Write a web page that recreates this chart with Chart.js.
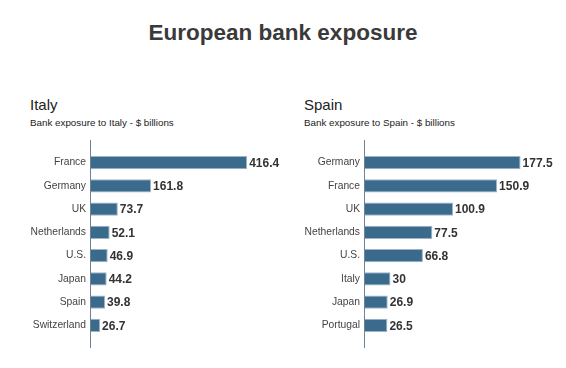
<!DOCTYPE html>
<html>
<head>
<meta charset="utf-8">
<script src="https://cdn.jsdelivr.net/npm/chart.js@4"></script>
<style>
  body { margin: 0; background: #fff; font-family: "Liberation Sans", Arial, sans-serif; }
  #wrap { position: relative; width: 566px; height: 368px; overflow: hidden; }
  .title { position: absolute; left: 0; width: 566px; top: 20px; text-align: center;
           font-size: 22.5px; font-weight: bold; color: #3a3a3a; }
  .head { position: absolute; font-size: 15px; color: #222; }
  .sub { position: absolute; font-size: 9.8px; color: #222; }
  canvas { position: absolute; }
</style>
</head>
<body>
<div id="wrap">
  <div class="title">European bank exposure</div>
  <div class="head" style="left:30px; top:96px;">Italy</div>
  <div class="sub" style="left:30px; top:117px;">Bank exposure to Italy - $ billions</div>
  <div class="head" style="left:304px; top:96px;">Spain</div>
  <div class="sub" style="left:304px; top:117px;">Bank exposure to Spain - $ billions</div>
  <div style="position:absolute; left:0; top:140px; width:290px; height:208px;"><canvas id="italyChart"></canvas></div>
  <div style="position:absolute; left:290px; top:140px; width:276px; height:208px;"><canvas id="spainChart"></canvas></div>
</div>
<script>
// Bank exposure, $ billions
const italyCountries = ['France', 'Germany', 'UK', 'Netherlands', 'U.S.', 'Japan', 'Spain', 'Switzerland'];
const italyValues = [416.4, 161.8, 73.7, 52.1, 46.9, 44.2, 39.8, 26.7];

const spainCountries = ['Germany', 'France', 'UK', 'Netherlands', 'U.S.', 'Italy', 'Japan', 'Portugal'];
const spainValues = [177.5, 150.9, 100.9, 77.5, 66.8, 30, 26.9, 26.5];

// vertical axis line that runs a bit past the bars, plus value labels
const axisAndLabels = {
    id: 'axisAndLabels',
    afterDatasetsDraw(chart) {
        const ctx = chart.ctx;
        const area = chart.chartArea;
        ctx.save();
        ctx.strokeStyle = '#6f8196';
        ctx.lineWidth = 1;
        ctx.beginPath();
        ctx.moveTo(area.left + 0.5, area.top - 11);
        ctx.lineTo(area.left + 0.5, area.bottom + 11);
        ctx.stroke();

        ctx.fillStyle = '#333';
        ctx.font = 'bold 12px "Liberation Sans", Arial, sans-serif';
        ctx.textBaseline = 'middle';
        const meta = chart.getDatasetMeta(0);
        meta.data.forEach((bar, i) => {
            ctx.fillText(chart.data.datasets[0].data[i], bar.x + 2, bar.y + 1);
        });
        ctx.restore();
    }
};

function renderBars(canvasId, labels, values, axisWidth, xMax) {
    const ctx = document.getElementById(canvasId).getContext('2d');
    return new Chart(ctx, {
        type: 'bar',
        data: {
            labels: labels,
            datasets: [{
                data: values,
                backgroundColor: '#3a6a8c',
                borderColor: '#9fb3c4',
                borderWidth: 1,
                borderSkipped: false,
                barPercentage: 0.57,
                categoryPercentage: 1
            }]
        },
        options: {
            indexAxis: 'y',
            responsive: true,
            maintainAspectRatio: false,
            animation: false,
            layout: { padding: { top: 11, bottom: 11, left: 0, right: 0 } },
            plugins: {
                legend: { display: false },
                tooltip: { enabled: false }
            },
            scales: {
                x: {
                    display: false,
                    min: 0,
                    max: xMax
                },
                y: {
                    grid: { display: false, drawTicks: false },
                    border: { display: false },
                    afterFit(scale) { scale.width = axisWidth; },
                    ticks: {
                        padding: 4,
                        color: '#444',
                        font: { size: 10.3, family: '"Liberation Sans", Arial, sans-serif' }
                    }
                }
            }
        },
        plugins: [axisAndLabels]
    });
}

renderBars('italyChart', italyCountries, italyValues, 90, 530);
renderBars('spainChart', spainCountries, spainValues, 74, 229);
</script>
</body>
</html>
